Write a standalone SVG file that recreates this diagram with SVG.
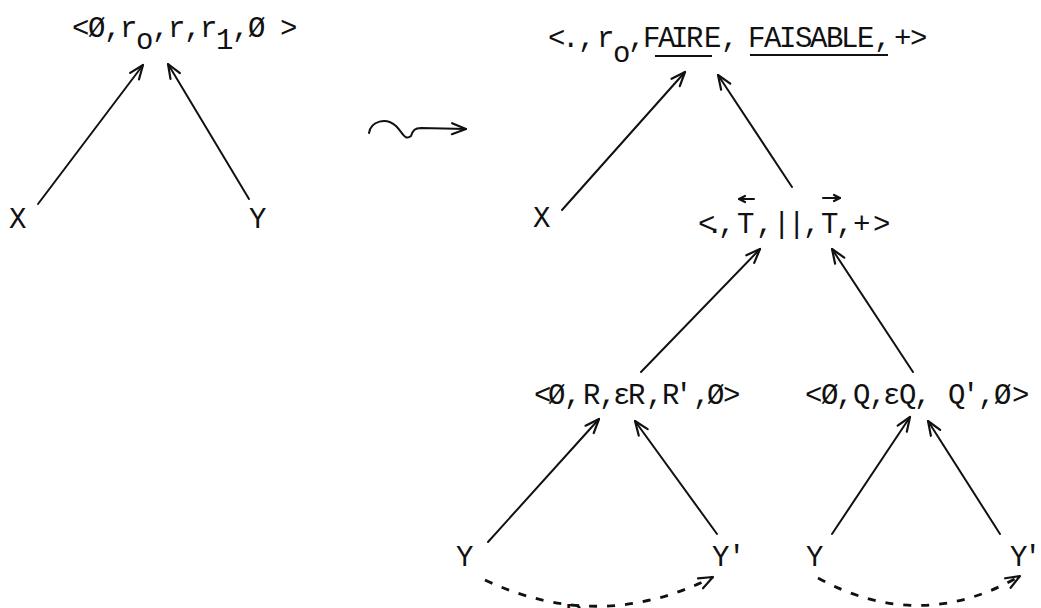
<svg xmlns="http://www.w3.org/2000/svg" width="1041" height="608" viewBox="0 0 1041 608">
<style>
text{font-family:"Liberation Mono","DejaVu Sans Mono",monospace;font-size:29px;fill:#111}
.ln{stroke:#111;stroke-width:2;fill:none;stroke-linecap:round}
.ds{stroke:#111;stroke-width:2.8;fill:none;stroke-dasharray:8 10}
.ul{stroke:#111;stroke-width:2;fill:none}
.hd{stroke:#111;stroke-width:2.2;fill:none;stroke-linecap:round;stroke-linejoin:round;stroke-dasharray:none}
</style>
<defs>
<marker id="ah" viewBox="-16 -9 18 18" refX="0" refY="0" markerWidth="18" markerHeight="18" markerUnits="userSpaceOnUse" orient="auto">
<path class="hd" d="M-14,-5.5 L0,0 L-14,5.5"/>
</marker>
<marker id="sh" viewBox="-8 -5 10 10" refX="0" refY="0" markerWidth="10" markerHeight="10" markerUnits="userSpaceOnUse" orient="auto">
<path class="hd" d="M-6,-3 L0,0 L-6,3" stroke-width="1.5"/>
</marker>
</defs>
<rect width="1041" height="608" fill="#fff"/>

<g id="connectors">
<path class="ln" d="M38,204 L143,65" marker-end="url(#ah)"/>
<path class="ln" d="M249,199 L168,64" marker-end="url(#ah)"/>
<path class="ln" d="M562,210 L685,72" marker-end="url(#ah)"/>
<path class="ln" d="M792,187 L718,75" marker-end="url(#ah)"/>
<path class="ln" d="M641,372 L760,249" marker-end="url(#ah)"/>
<path class="ln" d="M913,372 L832,249" marker-end="url(#ah)"/>
<path class="ln" d="M488,542 L599,419" marker-end="url(#ah)"/>
<path class="ln" d="M717,534 L635,421" marker-end="url(#ah)"/>
<path class="ln" d="M832,534 L910,417" marker-end="url(#ah)"/>
<path class="ln" d="M1000,534 L928,421" marker-end="url(#ah)"/>
<path class="ds" d="M485,580 Q600,634 713,577" marker-end="url(#ah)"/>
<path class="ds" d="M818,578 Q920,634 1020,576" marker-end="url(#ah)"/>
<text x="565" y="624">R</text>
</g>

<g id="transform-arrow">
<path class="ln" d="M369,133 C371,121 386,117 396,126 C403,133 405,141 411,136 C413,130 415,128 421,128 L466,129" stroke-width="2.4" marker-end="url(#ah)"/>
</g>

<g id="node-left-top">
<text x="72 88 104 120 136 152 168 184 200 216 232 248 264 280" y="37 37 37 37 49 37 37 37 37 49 37 37 37 37">&lt;Ø,ro,r,r1,Ø &gt;</text>
</g>
<g id="node-left-x"><text x="9" y="228">X</text></g>
<g id="node-left-y"><text x="249" y="228">Y</text></g>

<g id="node-right-top">
<text x="548 562 578 597 613 628 643 658 671 686 704 721 734 748 764 779 795 810 826 841 857 874 894 910" y="47 47 47 47 62 47 47 47 47 47 47 47 47 47 47 47 47 47 47 47 47 47 47 47">&lt;.,ro,FAIRE, FAISABLE,+&gt;</text>
<path class="ul" d="M655,56 L712,56"/>
<path class="ul" d="M750,55 L888,55" stroke-width="2.6"/>
</g>
<g id="node-right-x"><text x="533" y="227">X</text></g>

<g id="node-middle">
<text x="698 706 718 737 756 773 788 803 821 836 853 873" y="233">&lt;.,T,||,T,+&gt;</text>
<path class="ln" d="M754,199 L739,199" stroke-width="1.6" marker-end="url(#sh)"/>
<path class="ln" d="M823,198 L840,198" stroke-width="1.6" marker-end="url(#sh)"/>
</g>

<g id="node-lower-left">
<text x="534 548 564 583 599 613 628 646 662 675 693 707 723" y="404">&lt;Ø,R,εR,R',Ø&gt;</text>
</g>
<g id="node-lower-right">
<text x="805 821 836 853 869 883 899 914 931 948 962 978 994 1012" y="404">&lt;Ø,Q,εQ, Q',Ø&gt;</text>
</g>

<g id="node-y1"><text x="456" y="566">Y</text></g>
<g id="node-y1p"><text x="712 728" y="566">Y'</text></g>
<g id="node-y2"><text x="806" y="566">Y</text></g>
<g id="node-y2p"><text x="1010 1024" y="566">Y'</text></g>
</svg>
